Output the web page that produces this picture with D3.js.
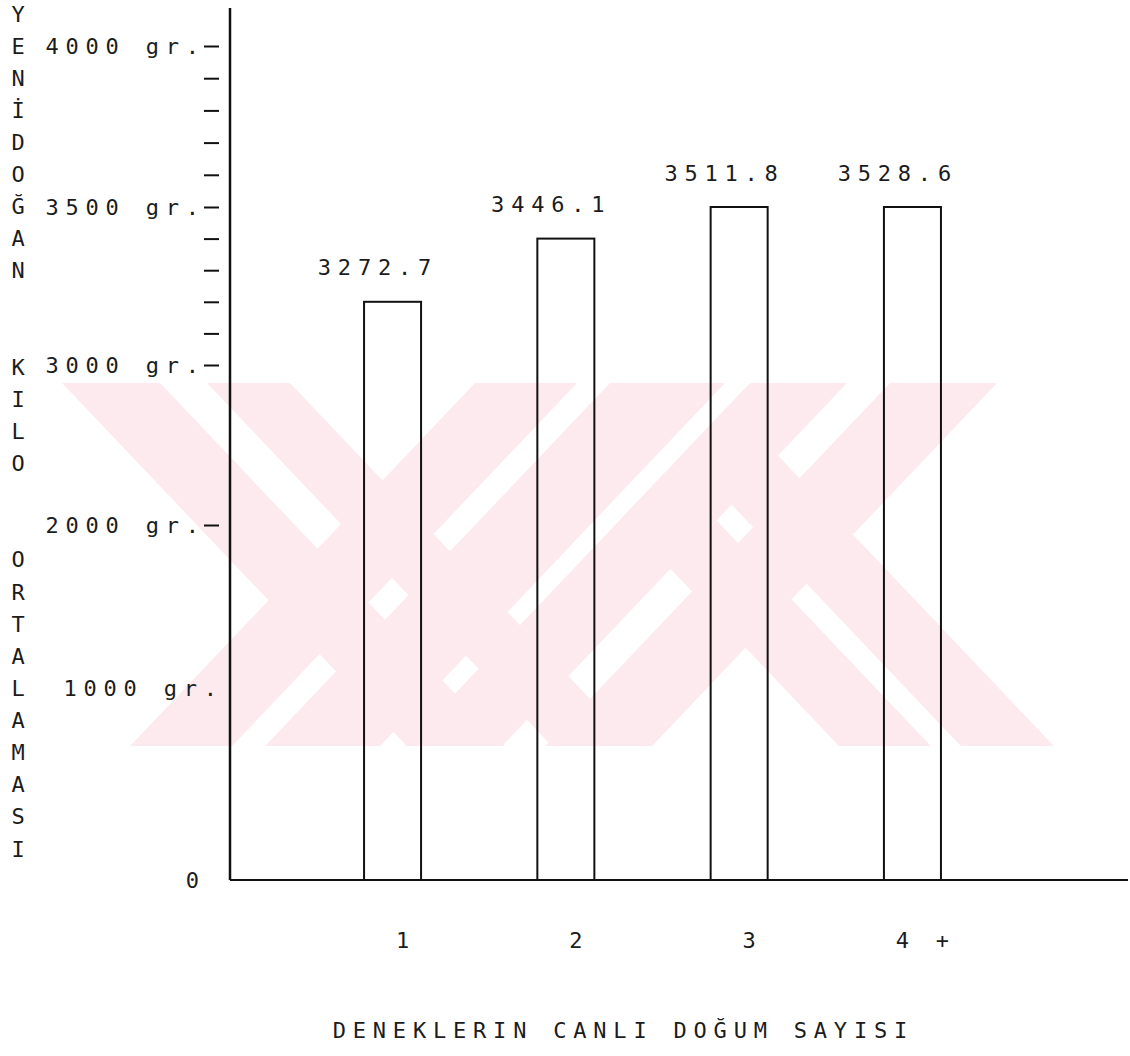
<!DOCTYPE html>
<html>
<head>
<meta charset="utf-8">
<script src="https://cdn.jsdelivr.net/npm/d3@7"></script>
<style>
  body { margin: 0; background: #fff; }
  text { font-family: "DejaVu Sans Mono", "Liberation Mono", monospace; fill: #1c1c1c; }
</style>
</head>
<body>
<div id="chart"></div>
<script>
var categories = ["1", "2", "3", "4 +"]
var valueLabels = ["3272.7", "3446.1", "3511.8", "3528.6"]
var barHeights = [3200, 3400, 3500, 3500]   // heights as drawn in the picture
var labelTicks = [0, 1000, 2000, 3000, 3500, 4000]
var dashTicks = [2000, 3000, 3100, 3200, 3300, 3400, 3500, 3600, 3700, 3800, 3900, 4000]
var yTitle = "YENİDOĞAN  KILO  ORTALAMASI"
var xTitle = "DENEKLERIN CANLI DOĞUM SAYISI"

var width = 1130, height = 1056;
var fontSize = 22, spacing = 6.8;

var svg = d3.select("#chart").append("svg")
    .attr("width", width)
    .attr("height", height);

svg.append("rect").attr("width", width).attr("height", height).attr("fill", "#fff");

// broken vertical scale, as printed
var y = d3.scaleLinear()
    .domain([0, 1000, 2000, 3000, 3500, 4000])
    .range([880, 688, 525, 365, 207, 46]);

var x = d3.scaleBand()
    .domain(categories)
    .range([306, 999])
    .paddingInner(0.671)
    .paddingOuter(0.335);

// --- watermark (pale diagonal stripes) ---
var wmTop = 383, wmBot = 746, slope = 0.95;
var shift = (wmBot - wmTop) * slope;
var defs = svg.append("defs");
defs.append("clipPath").attr("id", "wmclip")
    .append("rect").attr("x", 0).attr("y", wmTop).attr("width", width).attr("height", wmBot - wmTop);
defs.append("clipPath").attr("id", "legclip")
    .append("polygon").attr("points", [[750, wmTop], [width, wmTop], [width, wmBot], [750 - shift, wmBot]].join(" "));

var stripes = [
  {a: 62, b: 160, dir: 1}, {a: 207, b: 290, dir: 1},
  {a: 475, b: 577, dir: -1}, {a: 610, b: 725, dir: -1},
  {a: 750, b: 847, dir: -1}, {a: 890, b: 997, dir: -1}
]
var legStripes = [{a: 494, b: 586, dir: 1}, {a: 616, b: 709, dir: 1}]

function stripePoints(s) {
  return [[s.a, wmTop], [s.b, wmTop], [s.b + s.dir * shift, wmBot], [s.a + s.dir * shift, wmBot]].join(" ");
}
var wm = svg.append("g").attr("clip-path", "url(#wmclip)");
wm.selectAll(".stripe").data(stripes).enter().append("polygon")
    .attr("points", stripePoints).attr("fill", "#fdeaef");
wm.append("g").attr("clip-path", "url(#legclip)")
  .selectAll(".leg").data(legStripes).enter().append("polygon")
    .attr("points", stripePoints).attr("fill", "#fdeaef");

// --- bars ---
svg.selectAll(".bar").data(categories).enter().append("rect")
    .attr("class", "bar")
    .attr("x", function(d) { return x(d); })
    .attr("y", function(d, i) { return y(barHeights[i]); })
    .attr("width", x.bandwidth())
    .attr("height", function(d, i) { return y(0) - y(barHeights[i]); })
    .attr("fill", "none")
    .attr("stroke", "#111")
    .attr("stroke-width", 2);

svg.selectAll(".vlabel").data(categories).enter().append("text")
    .attr("class", "vlabel")
    .attr("x", function(d) { return x(d) + x.bandwidth() / 2 - 18 + spacing / 2; })
    .attr("y", function(d, i) { return y(barHeights[i]) - 34; })
    .attr("text-anchor", "middle")
    .attr("dominant-baseline", "central")
    .style("font-size", fontSize + "px")
    .style("letter-spacing", spacing + "px")
    .text(function(d, i) { return valueLabels[i]; });

// --- axes lines ---
svg.append("line")
    .attr("x1", 230).attr("x2", 230).attr("y1", y(0)).attr("y2", 8)
    .attr("stroke", "#111").attr("stroke-width", 2.5);
svg.append("line")
    .attr("x1", 230).attr("x2", 1128).attr("y1", y(0)).attr("y2", y(0))
    .attr("stroke", "#111").attr("stroke-width", 2);

// dash ticks
var dashAxis = svg.append("g").attr("transform", "translate(219,0)")
    .call(d3.axisLeft(y).tickValues(dashTicks).tickSize(15).tickFormat(""));
dashAxis.select(".domain").remove();
dashAxis.selectAll(".tick line").attr("stroke", "#111").attr("stroke-width", 2);

// tick labels
var labelAxis = svg.append("g").attr("transform", "translate(" + (199 + spacing) + ",0)")
    .call(d3.axisLeft(y).tickValues(labelTicks).tickSize(0).tickPadding(0)
      .tickFormat(function(d) { return d === 0 ? "0" : d + " gr."; }));
labelAxis.select(".domain").remove();
labelAxis.selectAll(".tick text")
    .attr("dx", function(d) { return (d === 0 || dashTicks.indexOf(d) >= 0) ? 0 : 18; })
    .style("font-size", fontSize + "px")
    .style("letter-spacing", spacing + "px")
    .attr("font-family", null);

// category labels
var xAxis = svg.append("g").attr("transform", "translate(0," + y(0) + ")")
    .call(d3.axisBottom(x).tickSize(0).tickPadding(52));
xAxis.select(".domain").remove();
xAxis.selectAll(".tick text")
    .attr("dx", 10 + spacing / 2)
    .style("font-size", fontSize + "px")
    .style("letter-spacing", spacing + "px")
    .attr("font-family", null);

// vertical title, one letter per printed line
var letters = yTitle.split("");
var row = d3.scaleLinear().domain([0, letters.length - 1]).range([14, 849]);
svg.selectAll(".ytitle").data(letters).enter().append("text")
    .attr("class", "ytitle")
    .attr("x", 18)
    .attr("y", function(d, i) { return row(i); })
    .attr("text-anchor", "middle")
    .attr("dominant-baseline", "central")
    .style("font-size", fontSize + "px")
    .text(function(d) { return d; });

svg.append("text")
    .attr("x", 620 + spacing / 2)
    .attr("y", 1030)
    .attr("text-anchor", "middle")
    .attr("dominant-baseline", "central")
    .style("font-size", fontSize + "px")
    .style("letter-spacing", spacing + "px")
    .text(xTitle);
</script>
</body>
</html>
